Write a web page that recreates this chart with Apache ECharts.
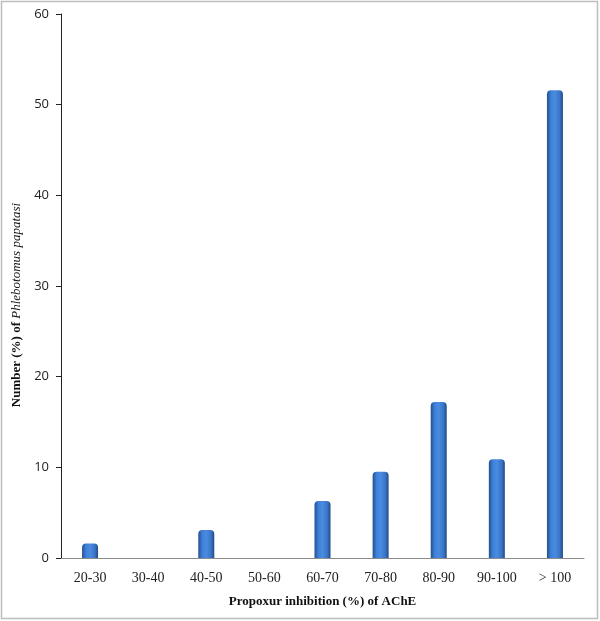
<!DOCTYPE html>
<html>
<head>
<meta charset="utf-8">
<script src="https://cdn.jsdelivr.net/npm/echarts@6/dist/echarts.min.js"></script>
<style>html,body{margin:0;padding:0;background:#fff}#c{width:600px;height:621px}</style>
</head>
<body>
<div id="c"></div>
<script>
var categories = ['20-30','30-40','40-50','50-60','60-70','70-80','80-90','90-100','> 100'];
var values = [1.6, 0, 3.1, 0, 6.3, 9.5, 17.2, 10.9, 51.6];
var yTicks = [0, 10, 20, 30, 40, 50, 60];

var chart = echarts.init(document.getElementById('c'), null, {renderer: 'canvas'});
var barColor = new echarts.graphic.LinearGradient(0, 0, 1, 0, [
  {offset: 0, color: '#23508f'},
  {offset: 0.25, color: '#3f80d8'},
  {offset: 0.5, color: '#4a8be2'},
  {offset: 0.8, color: '#3a74c6'},
  {offset: 1, color: '#1f4a86'}
]);
chart.setOption({
  animation: false,
  backgroundColor: '#fff',
  grid: {left: 61, top: 14, right: 16, bottom: 63, containLabel: false},
  xAxis: {
    type: 'category',
    data: categories,
    axisLine: {lineStyle: {color: '#8c8c8c', width: 1}},
    axisTick: {show: false},
    axisLabel: {fontFamily: 'Liberation Serif', fontSize: 14, color: '#222', margin: 13},
    name: 'Propoxur inhibition (%) of AChE',
    nameLocation: 'middle',
    nameGap: 37,
    nameTextStyle: {fontFamily: 'Liberation Serif', fontWeight: 'bold', fontSize: 13, color: '#111'}
  },
  yAxis: {
    type: 'value',
    min: yTicks[0],
    max: yTicks[yTicks.length - 1],
    interval: 10,
    splitLine: {show: false},
    axisLine: {show: true, lineStyle: {color: '#222', width: 1}},
    axisTick: {show: true, length: 5, lineStyle: {color: '#222'}},
    axisLabel: {fontFamily: 'Open Sans', fontSize: 13, color: '#222', margin: 12}
  },
  graphic: [
    {type: 'rect', shape: {x: 1.5, y: 1.5, width: 596, height: 617}, style: {fill: 'none', stroke: '#bdbdbd', lineWidth: 1.5}, silent: true},
    {
      type: 'text', x: 17, y: 305, rotation: Math.PI / 2,
      style: {
        text: '{b|Number (%) of }{i|Phlebotomus papatasi}',
        align: 'center', verticalAlign: 'middle',
        rich: {
          b: {fontFamily: 'Liberation Serif', fontWeight: 'bold', fontSize: 13, fill: '#111'},
          i: {fontFamily: 'Liberation Serif', fontStyle: 'italic', fontSize: 13, fill: '#111'}
        }
      }
    }
  ],
  series: [{
    type: 'bar',
    data: values,
    barWidth: 16,
    itemStyle: {color: barColor, borderRadius: [4, 4, 0, 0]}
  }]
});
</script>
</body>
</html>
